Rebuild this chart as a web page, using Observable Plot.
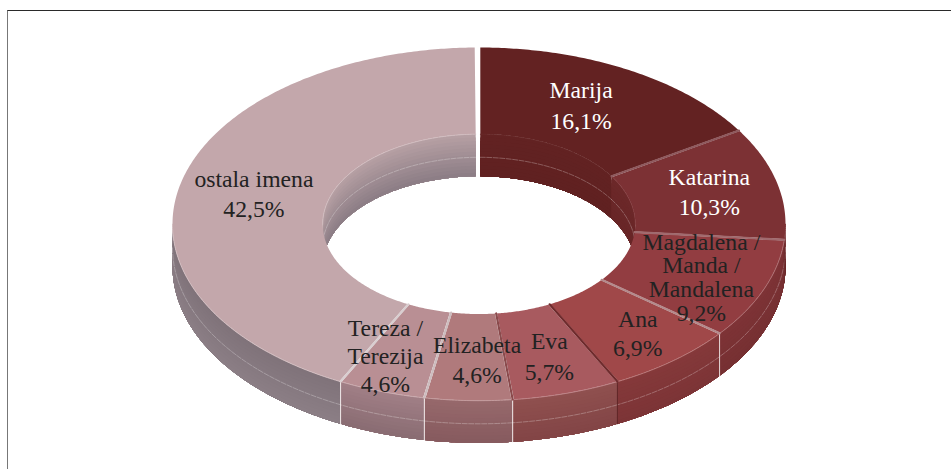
<!DOCTYPE html>
<html>
<head>
<meta charset="utf-8">
<script src="https://cdn.jsdelivr.net/npm/d3@7"></script>
<script src="https://cdn.jsdelivr.net/npm/@observablehq/plot@0.6"></script>
<style>
html,body{margin:0;padding:0;background:#fff;overflow:hidden}
#frame{position:absolute;left:7px;top:10px;width:960px;height:480px;border-top:1px solid #2a2a2a;border-left:1px solid #777;box-sizing:border-box}
#chart{position:absolute;left:0;top:0}
svg{display:block;background:transparent!important}
</style>
</head>
<body>
<div id="frame"></div>
<div id="chart"></div>
<script>
// ---- data ----
const names = ["Marija","Katarina","Magdalena /\nManda /\nMandalena","Ana","Eva","Elizabeta","Tereza /\nTerezija","ostala imena"];
const values = [16.1,10.3,9.2,6.9,5.7,4.6,4.6,42.5];
const valueLabels = ["16,1%","10,3%","9,2%","6,9%","5,7%","4,6%","4,6%","42,5%"];
const topColors = ["#632222","#7c3134","#923d41","#a04849","#a85a5f","#b07a7c","#b98f94","#c3a7ab"];
const innerTop = ["#622222","#6c2829","#833639","#85393a","#90504f","#97696c","#a17f86","#b7a0a4"];
const innerBottom = ["#602121","#682627","#763032","#7c3436","#824446","#865a5e","#896c72","#8b7d85"];
const outerTop = ["#622222","#742c2e","#7e3336","#85393a","#90504f","#97696c","#a17f86","#807379"];
const outerBottom = ["#602121","#692728","#763032","#7c3436","#824446","#865a5e","#896c72","#8b7e86"];
const seamColors = ["#8f5a5e","#a06a6e","#b48a8c","#6f2a2c","#8a4a4c","#cdbcbe","#d9ced0","#ffffff"];
const wallSeamColors = ["#5f2222","#6c2b2d","#e6d8d8","#5f2526","#f2eaea","#f2eaea","#f2eaea","#ffffff"];
const textColors = ["#ffffff","#ffffff","#222222","#222222","#222222","#222222","#222222","#222222"];

// ---- geometry (unit ring, seen from above) ----
const inner = 0.51, depth = 0.24, midR = 0.755, bands = 12;
const total = d3.sum(values);
const cum = d3.cumsum(values);
const slices = values.map((v,i)=>({i, a0:(cum[i]-v)/total*2*Math.PI, a1:cum[i]/total*2*Math.PI}));
const pt = (r,a,d=0)=>({x:r*Math.sin(a), y:-r*Math.cos(a)+d});
const arc = (r,a0,a1,d=0)=>{
  const n=Math.max(2,Math.ceil(Math.abs(a1-a0)/0.01));
  return d3.range(n+1).map(k=>pt(r,a0+(a1-a0)*k/n,d));
};

const tops=[], walls=[], seams=[], wallSeams=[], glints=[], dashes=[];
let id=0;
const PI=Math.PI;
for(const s of slices){
  const {i,a0,a1}=s;
  const g=0.004, ge=i===7?0.014:g;
  const ring=[...arc(1,a0+g,a1-ge),...arc(inner,a1-ge*1.5,a0+g*2)];
  const k=id++;
  ring.forEach(p=>tops.push({...p,k,fill:topColors[i]}));
  const oa0=Math.max(a0,PI/2), oa1=Math.min(a1-(i===7?ge:0),3*PI/2);
  const ranges=[];
  if(oa1>oa0) ranges.push({r:1,a0:oa0,a1:oa1});
  if(a0<PI/2) ranges.push({r:inner,a0:a0+(i===0?g*2:0),a1:Math.min(a1,PI/2)});
  if(a1>3*PI/2) ranges.push({r:inner,a0:Math.max(a0,3*PI/2),a1:a1-ge*1.5});
  for(const w of ranges){
    const col=w.r===1?d3.interpolateRgb(outerTop[i],outerBottom[i]):d3.interpolateRgb(innerTop[i],innerBottom[i]);
    for(let b=0;b<bands;b++){
      const d0=depth*b/bands;
      const c=d3.rgb(col((b+.5)/bands)).formatHex();
      const q=id++;
      [...arc(w.r,w.a0,w.a1,d0),...arc(w.r,w.a1,w.a0,depth)].forEach(p=>walls.push({...p,k:q,fill:c}));
    }
    const q=id++;
    arc(w.r,w.a0,w.a1,depth*0.55).forEach(p=>dashes.push({...p,k:q}));
    const h=id++;
    const hc=d3.interpolateRgb(topColors[i],"#ffffff")(i<2?0.03:0.25);
    arc(w.r,w.a0,w.a1,0.001).forEach(p=>glints.push({...p,k:h,stroke:hc}));
  }
  if(a1>PI/2 && a1<3*PI/2){
    const z=id++;
    [pt(1,a1),pt(1,a1,depth)].forEach(p=>wallSeams.push({...p,k:z,stroke:wallSeamColors[i]}));
  }
  const e=id++;
  [pt(inner,a1),pt(1,a1)].forEach(p=>seams.push({...p,k:e,stroke:seamColors[i]}));
}

const nudges=[[-.033,-.023],[.017,-.017],[.024,.024],[.04,.03],[.014,.018],[.02,.006],[-.065,.027],[0,-.005]];
const labels=slices.map(s=>{
  const m=pt(midR,(s.a0+s.a1)/2);
  return {i:s.i,x:m.x+nudges[s.i][0],y:m.y+nudges[s.i][1],text:names[s.i]+"\n"+valueLabels[s.i],fill:textColors[s.i]};
});
const textMark=(rows,lineHeight)=>Plot.text(rows,{x:"x",y:"y",text:"text",fill:"fill",fontSize:23.7,lineHeight,fontFamily:"'Liberation Serif','Times New Roman',serif",textAnchor:"middle",lineAnchor:"middle"});

const chart=Plot.plot({
  width:951,height:469,margin:0,
  x:{domain:[-1,1],range:[172,785],axis:null},
  y:{domain:[-1,1],range:[47,400],axis:null},
  color:{type:"identity"},
  marks:[
    Plot.line(walls,{x:"x",y:"y",z:"k",fill:"fill",curve:"linear"}),
    Plot.line(dashes,{x:"x",y:"y",z:"k",stroke:"#ffffff",strokeWidth:.6,strokeOpacity:.45,strokeDasharray:"5,1.5",curve:"linear"}),
    Plot.line(wallSeams,{x:"x",y:"y",z:"k",stroke:"stroke",strokeWidth:1,curve:"linear"}),
    Plot.line(tops,{x:"x",y:"y",z:"k",fill:"fill",curve:"linear"}),
    Plot.line(glints,{x:"x",y:"y",z:"k",stroke:"stroke",strokeWidth:1,curve:"linear"}),
    Plot.line(seams,{x:"x",y:"y",z:"k",stroke:"stroke",strokeWidth:2.2,curve:"linear"}),
    textMark(labels.filter(d=>d.i===2),1.0),
    textMark(labels.filter(d=>d.i===6),1.18),
    textMark(labels.filter(d=>d.i===3),1.23),
    textMark(labels.filter(d=>![2,3,6].includes(d.i)),1.3)
  ]
});
document.getElementById("chart").appendChild(chart);
</script>
</body>
</html>
